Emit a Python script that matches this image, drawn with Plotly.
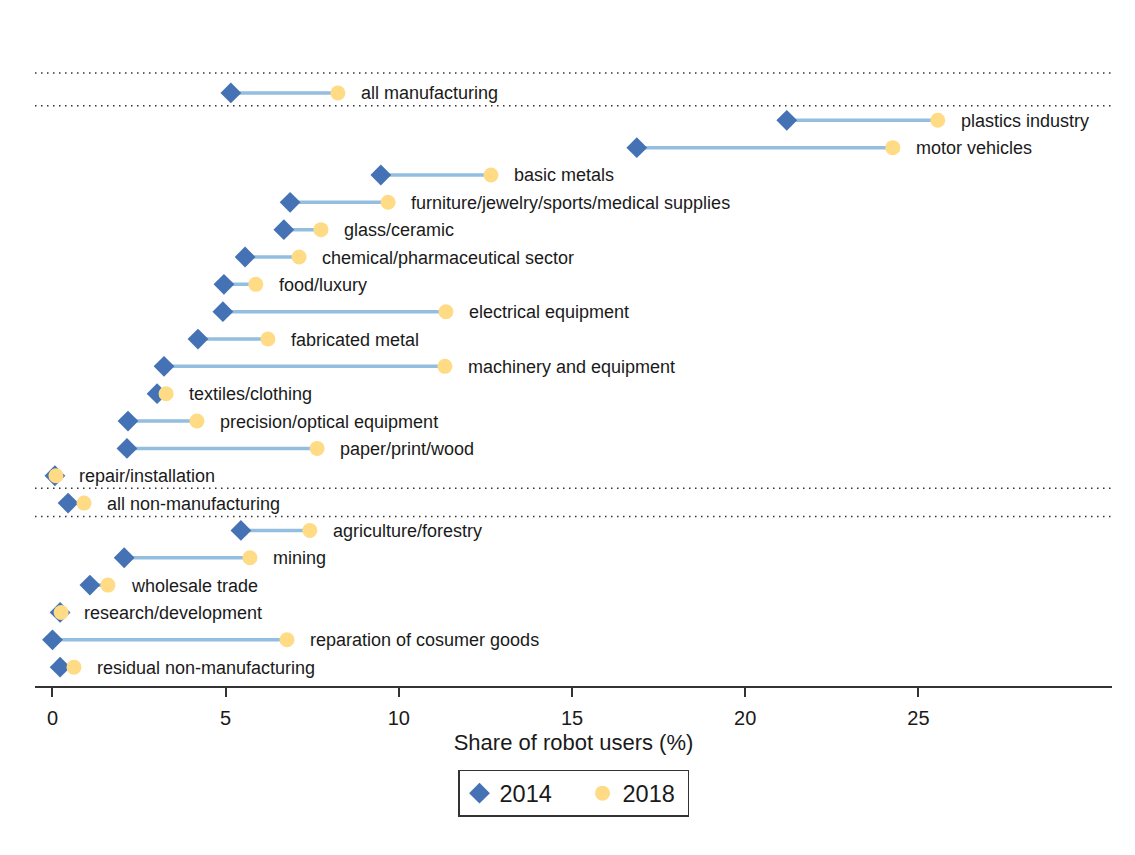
import plotly.graph_objects as go

categories = [
    "all manufacturing", "plastics industry", "motor vehicles", "basic metals",
    "furniture/jewelry/sports/medical supplies", "glass/ceramic",
    "chemical/pharmaceutical sector", "food/luxury", "electrical equipment",
    "fabricated metal", "machinery and equipment", "textiles/clothing",
    "precision/optical equipment", "paper/print/wood", "repair/installation",
    "all non-manufacturing", "agriculture/forestry", "mining", "wholesale trade",
    "research/development", "reparation of cosumer goods", "residual non-manufacturing",
]
share_2014 = [5.15, 21.2, 16.87, 9.48, 6.86, 6.68, 5.56, 4.95, 4.92, 4.2, 3.22, 3.02,
              2.18, 2.15, 0.07, 0.45, 5.44, 2.07, 1.08, 0.22, 0.0, 0.22]
share_2018 = [8.24, 25.56, 24.26, 12.66, 9.69, 7.75, 7.12, 5.87, 11.36, 6.22, 11.33, 3.28,
              4.17, 7.64, 0.1, 0.91, 7.43, 5.7, 1.6, 0.25, 6.77, 0.62]
separator_rows = [-0.73, 0.47, 14.46, 15.49]
x_ticks = [0, 5, 10, 15, 20, 25]

rows = list(range(len(categories)))

line_x, line_y = [], []
for r, a, b in zip(rows, share_2014, share_2018):
    line_x += [a, b, None]
    line_y += [r, r, None]

fig = go.Figure()
fig.add_trace(go.Scatter(x=line_x, y=line_y, mode="lines",
                         line=dict(color="#93BEDF", width=3.5),
                         showlegend=False, hoverinfo="skip"))
fig.add_trace(go.Scatter(x=share_2014, y=rows, mode="markers", name="2014",
                         marker=dict(symbol="diamond", size=16, color="#4472B4",
                                     line=dict(width=0)),
                         legendwidth=78))
fig.add_trace(go.Scatter(x=share_2018, y=rows, mode="markers", name="2018",
                         marker=dict(symbol="circle", size=15, color="#FFDB86",
                                     line=dict(width=0)),
                         legendwidth=60))

for r, b, c in zip(rows, share_2018, categories):
    fig.add_annotation(x=b, y=r, text=c, showarrow=False, xanchor="left",
                       yanchor="middle", xshift=21, yshift=-0.5,
                       font=dict(family="Liberation Sans, Arial", size=18, color="#1a1a1a"))

for s in separator_rows:
    fig.add_shape(type="line", xref="paper", x0=0, x1=1, y0=s, y1=s,
                  line=dict(color="#333333", width=1.5, dash="1.5px,4.5px"))

fig.update_layout(
    width=1127, height=847,
    margin=dict(l=27, r=23, t=33, b=169),
    paper_bgcolor="white", plot_bgcolor="white",
    font=dict(family="Liberation Sans, Arial", color="#1a1a1a"),
    xaxis=dict(range=[-0.505, 30.59], tickvals=x_ticks, ticks="outside", ticklen=9,
               tickwidth=1.5, tickcolor="#333333", showline=True, linecolor="#333333",
               linewidth=2, showgrid=False, zeroline=False, ticklabelstandoff=4,
               tickfont=dict(size=20, color="#1a1a1a"),
               title=dict(text="Share of robot users (%)", font=dict(size=22, color="#1a1a1a"),
                          standoff=7)),
    yaxis=dict(range=[21.69, -1.9], showgrid=False, zeroline=False, showline=False,
               showticklabels=False, ticks=""),
    legend=dict(orientation="h", x=0.5, xanchor="center", y=-0.13, yanchor="top",
                bordercolor="#333333", borderwidth=1.5, font=dict(size=23.5, color="#1a1a1a"),
                itemsizing="trace", tracegroupgap=0),
)

fig.write_html("out.html")
